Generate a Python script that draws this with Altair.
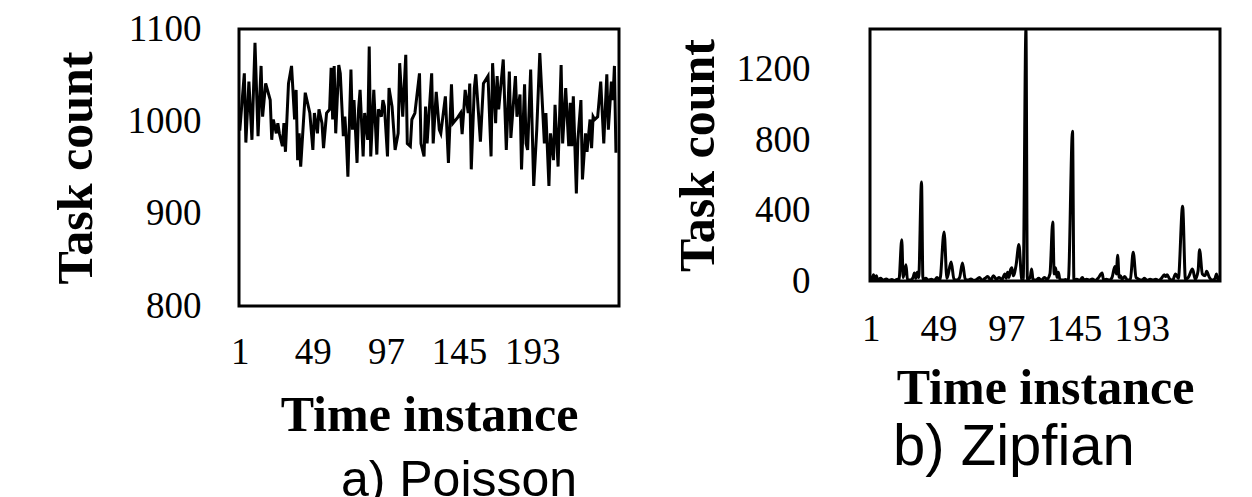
import altair as alt
import pandas as pd

# ---- data ----
poisson_t = [1, 4, 5, 7, 9, 11, 13, 15, 16, 18, 21, 22, 23, 25, 26, 27, 29, 30, 31, 33, 35, 37, 38, 39, 40, 41,
             44, 47, 49, 50, 52, 53, 55, 56, 58, 60, 61, 62, 63, 64, 66, 67, 69, 70, 71, 72, 74, 75, 76, 78, 79,
             80, 82, 83, 85, 86, 87, 89, 91, 92, 94, 95, 96, 98, 99, 101, 103, 105, 106, 108, 110, 111, 113,
             114, 116, 119, 120, 122, 123, 124, 127, 128, 130, 132, 133, 136, 138, 140, 141, 144, 146, 147,
             149, 151, 152, 153, 155, 156, 159, 161, 164, 166, 167, 169, 170, 171, 174, 176, 178, 179, 182,
             183, 185, 186, 188, 189, 190, 192, 194, 196, 198, 201, 202, 204, 205, 207, 208, 210, 212, 213,
             215, 217, 218, 219, 220, 222, 223, 225, 226, 228, 229, 231, 232, 233, 234, 236, 238, 240, 242,
             243, 245, 246, 247, 248]
poisson_v = [990, 1052, 977, 1043, 980, 1085, 984, 1060, 1005, 1041, 1023, 980, 1002, 987, 998, 987, 973, 998,
             967, 1041, 1060, 1002, 1034, 958, 987, 951,
             1031, 1009, 969, 1009, 987, 1013, 998, 971, 1009, 1013, 1058, 1002, 1060, 987, 1061, 1052, 984,
             1005, 980, 940, 1056, 991, 1023, 955, 1013,
             1034, 962, 1009, 980, 1081, 962, 1034, 964, 1013, 1005, 1023, 1016, 962, 1036, 1016, 969, 987,
             1063, 1005, 1072, 976, 973,
             1002, 1009, 1052, 976, 962, 1016, 976, 1052, 976, 1032, 991, 987, 1027, 955, 1040, 998, 1004,
             1009, 986,
             1034, 1009, 1041, 948, 1036, 1051, 978, 1041, 1049, 962, 1063, 998, 1049, 1013, 1067, 969, 1054,
             982, 1049,
             1005, 1029, 948, 1040, 976, 969, 1056, 930, 991, 1074, 976, 1009, 930, 987, 958, 1018, 951, 1061,
             976,
             1036, 973, 1020, 973, 1027, 922, 980, 1023, 937, 987, 967, 1002, 971, 1005, 1002, 1005, 1043, 976,
             1051,
             991, 1043, 1023, 1060, 966]

zipf_t = [1, 2, 3, 4, 5, 6, 8, 10, 12, 14, 16, 18, 20, 21, 23, 24, 26, 27, 29, 31, 32, 33, 34, 35, 37, 38, 40,
          42, 44, 46, 48, 50, 53, 55, 58, 60, 62, 64, 66, 68, 70, 72, 74, 76, 78, 80, 82, 84, 86, 88, 90, 92,
          94, 96, 97, 98, 99, 100, 101, 102, 104, 106, 108, 109, 111, 112, 114, 115, 116, 118, 120, 122, 124,
          126, 128, 130, 131, 132, 133, 134, 135, 137, 139, 141, 144, 145, 147, 149, 151, 152, 154, 156, 158,
          160, 162, 165, 166, 168, 170, 172, 174, 175, 176, 177, 178, 179, 181, 183, 185, 187, 189, 191, 193,
          195, 197, 199, 201, 203, 205, 207, 209, 210, 211, 213, 215, 217, 219, 222, 224, 226, 229, 231, 233,
          234, 236, 238, 239, 241, 243, 245, 246, 247, 248]
zipf_v = [30, 10, 35, 8, 30, 5, 15, 5, 12, 4, 8, 3, 10, 5, 235, 20, 93, 10, 5, 20, 45, 15, 50, 20, 563, 10, 15,
          5, 10, 3, 20, 5, 279, 15, 108, 10, 5, 20, 102, 10, 5, 12, 3, 8, 20, 5, 15, 25, 5, 30, 10, 20,
          8, 40, 15, 50, 20, 61, 75, 30, 90, 207, 10, 5, 1433, 10, 20, 68, 10, 5, 15, 5, 20,
          10, 40, 336, 40, 75, 20, 50, 10, 5, 8, 3, 851, 5, 10, 3, 20, 5, 10, 5, 12,
          3, 15, 45, 5, 10, 5, 20, 83, 40, 146, 20, 30, 10, 25, 5, 10, 163, 20, 10, 5,
          15, 3, 10, 5, 10, 3, 15, 35, 25, 35, 10, 5, 40, 15, 425, 10, 20, 68, 10, 60,
          178, 40, 30, 55, 20, 5, 15, 40, 10, 30]

x_ticks = [1, 49, 97, 145, 193]
poisson_y_ticks = [800, 900, 1000, 1100]
zipf_y_ticks = [0, 400, 800, 1200]

SERIF = "Liberation Serif"
SANS = "Liberation Sans"


def panel(t, v, xdom, ydom, yticks, w, h, title, interp, lab_pad_x, title_pad_x,
          lab_pad_y, title_pad_y, title_dx, title_offset, title_size):
    df = pd.DataFrame({"t": t, "v": v})
    x = alt.X("t:Q",
              scale=alt.Scale(domain=xdom, nice=False, zero=False),
              axis=alt.Axis(values=x_ticks, title="Time instance", grid=False, ticks=False,
                            domain=False, format="d", labelFont=SERIF, labelFontSize=37,
                            labelColor="black", labelPadding=lab_pad_x, labelOverlap=False,
                            labelFlush=False, titleFont=SERIF, titleFontSize=50,
                            titleFontWeight="bold", titleColor="black",
                            titlePadding=title_pad_x))
    y = alt.Y("v:Q",
              scale=alt.Scale(domain=ydom, nice=False, zero=False),
              axis=alt.Axis(values=yticks, title="Task count", grid=False, ticks=False,
                            domain=False, format="d", labelFont=SERIF, labelFontSize=37,
                            labelColor="black", labelPadding=lab_pad_y, labelOverlap=False,
                            labelFlush=False, titleFont=SERIF, titleFontSize=50,
                            titleFontWeight="bold", titleColor="black",
                            titlePadding=title_pad_y))
    return alt.Chart(df).mark_line(color="black", strokeWidth=3, interpolate=interp,
                                   clip=True).encode(x=x, y=y).properties(
        width=w, height=h,
        title=alt.TitleParams(title, orient="bottom", font=SANS, fontSize=title_size,
                              fontWeight="normal", color="black", dx=title_dx,
                              offset=title_offset))


left = panel(poisson_t, poisson_v, [0.5, 250], [800, 1100], poisson_y_ticks, 380, 277,
             "a) Poisson", "linear", 28, 20, 38, 26, 30, 16, 50)
right = panel(zipf_t, zipf_v, [0.5, 248.5], [0, 1433], zipf_y_ticks, 350, 252,
              "b) Zipfian", "monotone", 30, 16, 60, 13, -31, 6, 58)

chart = alt.hconcat(left, right, spacing=50).properties(
    padding={"left": 41, "top": 0, "right": 0, "bottom": 0},
    background="white",
).configure_view(stroke="black", strokeWidth=3)

chart.save("out.html", embed_options={"renderer": "svg", "actions": False})
